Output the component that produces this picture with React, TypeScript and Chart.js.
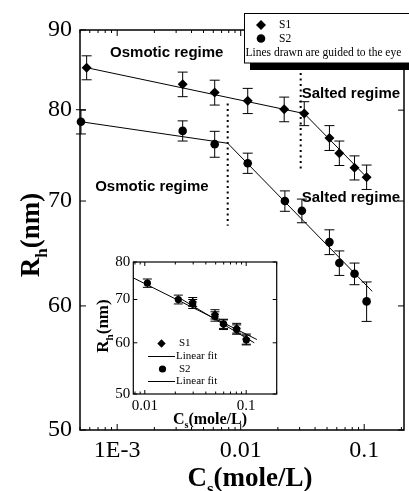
import React, { useEffect, useRef } from "react";
import { Chart, registerables } from "chart.js";

Chart.register(...registerables);

// ---------------- Main plot data ----------------
const s1Conc = [0.000566, 0.00339, 0.00616, 0.0114, 0.0225, 0.0327, 0.0523, 0.0629, 0.0835, 0.1046];
const s1Rh = [85.15, 83.1, 82.1, 81.1, 80.1, 79.6, 76.8, 75.1, 73.5, 72.5];
const s1Err = [1.5, 1.5, 1.5, 1.5, 1.45, 1.4, 1.4, 1.35, 1.3, 1.3];

const s2Conc = [0.000509, 0.00339, 0.00616, 0.0114, 0.0228, 0.0313, 0.0523, 0.0629, 0.0835, 0.1046];
const s2Rh = [78.65, 77.6, 76.1, 74.0, 70.0, 69.0, 65.9, 63.9, 62.9, 60.4];
const s2Err = [1.4, 1.15, 1.45, 1.1, 1.05, 1.2, 1.2, 1.15, 1.0, 1.75];

const s1GuideConc = [0.000566, 0.0327, 0.1046];
const s1GuideRh = [85.15, 79.6, 72.5];
const s2GuideConc = [0.000509, 0.00785, 0.1161];
const s2GuideRh = [78.65, 76.2, 61.3];

const osmoticLimitConc = [0.00785, 0.00785];
const osmoticLimitRh = [80.8, 67.5];
const saltedLimitConc = [0.0306, 0.0306];
const saltedLimitRh = [84.5, 73.2];

const regimeText = ["Osmotic regime", "Salted regime", "Osmotic regime", "Salted regime"];
const regimeConc = [0.00252, 0.078, 0.00191, 0.078];
const regimeRh = [87.0, 81.9, 71.5, 70.3];

const mainXTicks = [0.001, 0.01, 0.1];
const mainXTickLabels = ["1E-3", "0.01", "0.1"];
const mainXMinor = [
  0.0005, 0.0006, 0.0007, 0.0008, 0.0009,
  0.002, 0.003, 0.004, 0.005, 0.006, 0.007, 0.008, 0.009,
  0.02, 0.03, 0.04, 0.05, 0.06, 0.07, 0.08, 0.09, 0.2,
];
const mainYTicks = [50, 60, 70, 80, 90];

// ---------------- Inset data ----------------
const insetS1Conc = [0.0297, 0.0492, 0.0598, 0.0806, 0.1002];
const insetS1Rh = [69.4, 66.4, 64.0, 63.2, 60.8];
const insetS1Err = [1.1, 1.1, 1.1, 1.1, 1.1];
const insetS2Conc = [0.0106, 0.0214, 0.0297, 0.0492, 0.0598, 0.0806, 0.1002];
const insetS2Rh = [74.2, 70.0, 68.9, 65.9, 64.2, 62.9, 60.6];
const insetS2Err = [1.1, 1.1, 1.1, 1.1, 1.05, 1.05, 1.05];

const insetFit1Conc = [0.021, 0.12];
const insetFit1Rh = [70.7, 60.0];
const insetFit2Conc = [0.0077, 0.1276];
const insetFit2Rh = [75.6, 60.7];

const insetXTicks = [0.01, 0.1];
const insetXTickLabels = ["0.01", "0.1"];
const insetXMinor = [0.008, 0.009, 0.02, 0.03, 0.04, 0.05, 0.06, 0.07, 0.08, 0.09, 0.2];
const insetYTicks = [50, 60, 70, 80];

const SERIF = '"Liberation Serif", "Times New Roman", serif';
const SANS = '"Liberation Sans", Arial, sans-serif';

const pts = (xs: number[], ys: number[]) => xs.map((x, i) => ({ x, y: ys[i] }));

function drawSubText(ctx: CanvasRenderingContext2D, main: string, sub: string, rest: string,
  cx: number, cy: number, size: number, rotate: boolean) {
  ctx.save();
  ctx.translate(cx, cy);
  if (rotate) ctx.rotate(-Math.PI / 2);
  const big = `bold ${size}px ${SERIF}`;
  const small = `bold ${Math.round(size * 0.62)}px ${SERIF}`;
  ctx.font = big;
  const w1 = ctx.measureText(main).width;
  const w3 = ctx.measureText(rest).width;
  ctx.font = small;
  const w2 = ctx.measureText(sub).width;
  let x = -(w1 + w2 + w3) / 2;
  const base = size * 0.35;
  ctx.fillStyle = "#000";
  ctx.textAlign = "left";
  ctx.textBaseline = "alphabetic";
  ctx.font = big;
  ctx.fillText(main, x, base);
  x += w1;
  ctx.font = small;
  ctx.fillText(sub, x, base + size * 0.28);
  x += w2;
  ctx.font = big;
  ctx.fillText(rest, x, base);
  ctx.restore();
}

function diamond(ctx: CanvasRenderingContext2D, x: number, y: number, r: number) {
  ctx.beginPath();
  ctx.moveTo(x, y - r);
  ctx.lineTo(x + r, y);
  ctx.lineTo(x, y + r);
  ctx.lineTo(x - r, y);
  ctx.closePath();
  ctx.fill();
}
function dot(ctx: CanvasRenderingContext2D, x: number, y: number, r: number) {
  ctx.beginPath();
  ctx.arc(x, y, r, 0, Math.PI * 2);
  ctx.fill();
}

const frameTicksPlugin = {
  id: "frameTicks",
  afterDraw(chart: any, _a: any, opts: any) {
    const { ctx, chartArea: a, scales } = chart;
    const xs = scales.x, ys = scales.y;
    ctx.save();
    ctx.strokeStyle = "#000";
    ctx.lineWidth = opts.lineWidth;
    ctx.strokeRect(a.left, a.top, a.right - a.left, a.bottom - a.top);
    ctx.lineWidth = 1;
    const seg = (x1: number, y1: number, x2: number, y2: number) => {
      ctx.beginPath();
      ctx.moveTo(x1, y1);
      ctx.lineTo(x2, y2);
      ctx.stroke();
    };
    const xT = (vals: number[], len: number) => vals.forEach((v) => {
      const p = xs.getPixelForValue(v);
      if (p < a.left - 0.5 || p > a.right + 0.5) return;
      seg(p, a.bottom, p, a.bottom - len);
      seg(p, a.top, p, a.top + len);
    });
    const yT = (vals: number[], len: number) => vals.forEach((v) => {
      const p = ys.getPixelForValue(v);
      if (p < a.top - 0.5 || p > a.bottom + 0.5) return;
      seg(a.left, p, a.left + len, p);
      seg(a.right, p, a.right - len, p);
    });
    xT(opts.xMajor, opts.major);
    xT(opts.xMinor, opts.minor);
    yT(opts.yMajor, opts.major);
    ctx.restore();
  },
};

const errorBarsPlugin = {
  id: "errorBars",
  afterDatasetsDraw(chart: any, _a: any, opts: any) {
    const ctx = chart.ctx;
    const ys = chart.scales.y;
    chart.data.datasets.forEach((ds: any, i: number) => {
      if (!ds.errors) return;
      const meta = chart.getDatasetMeta(i);
      ctx.save();
      ctx.strokeStyle = "#000";
      ctx.lineWidth = 1;
      meta.data.forEach((el: any, j: number) => {
        const raw = ds.data[j];
        const e = ds.errors[j];
        const x = el.x;
        const t = ys.getPixelForValue(raw.y + e);
        const b = ys.getPixelForValue(raw.y - e);
        const c = opts.cap;
        ctx.beginPath();
        ctx.moveTo(x, t); ctx.lineTo(x, b);
        ctx.moveTo(x - c, t); ctx.lineTo(x + c, t);
        ctx.moveTo(x - c, b); ctx.lineTo(x + c, b);
        ctx.stroke();
      });
      ctx.restore();
    });
  },
};

const regimeLabelsPlugin = {
  id: "regimeLabels",
  afterDatasetsDraw(chart: any) {
    const { ctx, scales } = chart;
    ctx.save();
    ctx.fillStyle = "#000";
    ctx.font = `bold 15px ${SANS}`;
    ctx.textAlign = "center";
    ctx.textBaseline = "middle";
    regimeText.forEach((t, i) => {
      ctx.fillText(t, scales.x.getPixelForValue(regimeConc[i]), scales.y.getPixelForValue(regimeRh[i]));
    });
    ctx.restore();
  },
};

const mainDecorPlugin = {
  id: "mainDecor",
  afterDraw(chart: any) {
    const ctx = chart.ctx;
    ctx.save();
    // legend box with shadow
    ctx.fillStyle = "#000";
    ctx.fillRect(250, 63, 165, 7);
    ctx.fillStyle = "#fff";
    ctx.fillRect(244, 13, 170, 50);
    ctx.strokeStyle = "#000";
    ctx.lineWidth = 1;
    ctx.strokeRect(244.5, 13.5, 170, 49.5);
    ctx.fillStyle = "#000";
    diamond(ctx, 261, 25, 5);
    dot(ctx, 261, 38.5, 4.3);
    ctx.font = `11.5px ${SERIF}`;
    ctx.textAlign = "left";
    ctx.textBaseline = "middle";
    ctx.fillText("S1", 279, 25);
    ctx.fillText("S2", 279, 38.5);
    ctx.fillText("Lines drawn are guided to the eye", 245.5, 53);
    ctx.restore();
    drawSubText(ctx, "R", "h", "(nm)", 30, 235, 27, true);
    drawSubText(ctx, "C", "s", "(mole/L)", 250, 477, 27, false);
  },
};

const insetDecorPlugin = {
  id: "insetDecor",
  afterDraw(chart: any) {
    const ctx = chart.ctx;
    ctx.save();
    ctx.fillStyle = "#000";
    ctx.strokeStyle = "#000";
    ctx.lineWidth = 1;
    diamond(ctx, 71.5, 93.5, 4.2);
    dot(ctx, 72.5, 119, 3.6);
    ctx.beginPath();
    ctx.moveTo(58, 106.5); ctx.lineTo(85, 106.5);
    ctx.moveTo(58, 131.5); ctx.lineTo(85, 131.5);
    ctx.stroke();
    ctx.font = `11px ${SERIF}`;
    ctx.textAlign = "left";
    ctx.textBaseline = "middle";
    ctx.fillText("S1", 89, 93.5);
    ctx.fillText("Linear fit", 86, 106.5);
    ctx.fillText("S2", 89, 119);
    ctx.fillText("Linear fit", 86, 131.5);
    ctx.restore();
    drawSubText(ctx, "R", "h", "(nm)", 12, 76, 17, true);
    drawSubText(ctx, "C", "s", "(mole/L)", 120, 168, 16, false);
  },
};

function logAxis(min: number, max: number, ticks: number[], labels: string[] | null,
  fontSize: number, padding: number, fit: (s: any) => void) {
  return {
    type: "logarithmic",
    min,
    max,
    grid: { display: false, drawTicks: false },
    border: { display: false },
    ticks: {
      autoSkip: false,
      maxRotation: 0,
      padding,
      color: "#000",
      font: { family: SERIF, size: fontSize },
      callback: (v: number, i: number) => (labels ? labels[i] : String(v)),
    },
    afterBuildTicks: (s: any) => {
      s.ticks = ticks.map((value) => ({ value }));
    },
    afterFit: fit,
  };
}

export default function App() {
  const mainRef = useRef<HTMLCanvasElement>(null);
  const insetRef = useRef<HTMLCanvasElement>(null);

  useEffect(() => {
    const lineDs = (xs: number[], ys: number[], extra: any = {}) => ({
      data: pts(xs, ys),
      showLine: true,
      borderColor: "#000",
      borderWidth: 1,
      pointRadius: 0,
      fill: false,
      clip: false,
      ...extra,
    });
    const markerDs = (xs: number[], ys: number[], errs: number[], style: string, r: number) => ({
      data: pts(xs, ys),
      errors: errs,
      showLine: false,
      pointStyle: style,
      pointRadius: r,
      backgroundColor: "#000",
      borderColor: "#000",
      borderWidth: 0,
      clip: false,
    });

    const main = new Chart(mainRef.current as HTMLCanvasElement, {
      type: "scatter",
      data: {
        datasets: [
          lineDs(s1GuideConc, s1GuideRh),
          lineDs(s2GuideConc, s2GuideRh),
          lineDs(osmoticLimitConc, osmoticLimitRh, { borderWidth: 2, borderDash: [2, 3.5] }),
          lineDs(saltedLimitConc, saltedLimitRh, { borderWidth: 2, borderDash: [2, 3.5] }),
          markerDs(s1Conc, s1Rh, s1Err, "rectRot", 5),
          markerDs(s2Conc, s2Rh, s2Err, "circle", 4.3),
        ] as any,
      },
      options: {
        responsive: false,
        animation: false,
        devicePixelRatio: 1,
        events: [],
        layout: { padding: { top: 30, right: 0, left: 0, bottom: 0 } },
        plugins: {
          legend: { display: false },
          tooltip: { enabled: false },
          frameTicks: { lineWidth: 1.5, major: 6, minor: 3, xMajor: mainXTicks, xMinor: mainXMinor, yMajor: mainYTicks },
          errorBars: { cap: 5 },
        } as any,
        scales: {
          x: logAxis(0.0005, 0.21, mainXTicks, mainXTickLabels, 24, 6, (s: any) => { s.height = 61; }),
          y: logAxis(50, 90, mainYTicks, null, 24, 8, (s: any) => { s.width = 80; }),
        } as any,
      },
      plugins: [frameTicksPlugin, errorBarsPlugin, regimeLabelsPlugin, mainDecorPlugin],
    } as any);

    const inset = new Chart(insetRef.current as HTMLCanvasElement, {
      type: "scatter",
      data: {
        datasets: [
          lineDs(insetFit1Conc, insetFit1Rh),
          lineDs(insetFit2Conc, insetFit2Rh),
          markerDs(insetS2Conc, insetS2Rh, insetS2Err, "circle", 3.6),
          markerDs(insetS1Conc, insetS1Rh, insetS1Err, "rectRot", 4.2),
        ] as any,
      },
      options: {
        responsive: false,
        animation: false,
        devicePixelRatio: 1,
        events: [],
        layout: { padding: { top: 12, right: 13.3, left: 0, bottom: 0 } },
        plugins: {
          legend: { display: false },
          tooltip: { enabled: false },
          frameTicks: { lineWidth: 1.2, major: 4, minor: 2.5, xMajor: insetXTicks, xMinor: insetXMinor, yMajor: insetYTicks },
          errorBars: { cap: 4.5 },
        } as any,
        scales: {
          x: logAxis(0.0077, 0.2, insetXTicks, insetXTickLabels, 15, 3, (s: any) => { s.height = 36; }),
          y: logAxis(50, 80, insetYTicks, null, 15, 3, (s: any) => { s.width = 43.3; }),
        } as any,
      },
      plugins: [frameTicksPlugin, errorBarsPlugin, insetDecorPlugin],
    } as any);

    return () => {
      main.destroy();
      inset.destroy();
    };
  }, []);

  return (
    <div style={{ position: "fixed", left: 0, top: 0, width: 409, height: 491, background: "#fff", overflow: "hidden" }}>
      <canvas ref={mainRef} width={409} height={491}
        style={{ position: "absolute", left: 0, top: 0, width: 409, height: 491 }} />
      <canvas ref={insetRef} width={200} height={180}
        style={{ position: "absolute", left: 90, top: 250, width: 200, height: 180 }} />
    </div>
  );
}
